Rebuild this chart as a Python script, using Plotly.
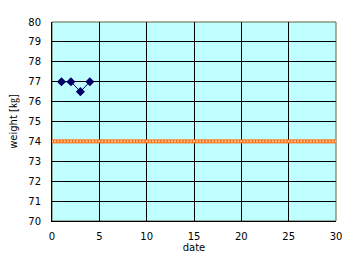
import plotly.graph_objects as go

# Data
days = [1, 2, 3, 4]
weights = [77, 77, 76.5, 77]
target_days = [i / 3 for i in range(91)]
target_weight = [74] * len(target_days)

x_ticks = [0, 5, 10, 15, 20, 25, 30]
y_ticks = [70, 71, 72, 73, 74, 75, 76, 77, 78, 79, 80]

font = dict(family="DejaVu Sans, Noto Sans CJK JP", size=10, color="black")

fig = go.Figure()
fig.add_trace(go.Scatter(
    x=target_days, y=target_weight, mode="lines+markers",
    line=dict(color="#FF6600", width=1),
    marker=dict(symbol="square", size=3, color="#FFC8A0",
                line=dict(color="#FF6600", width=1)),
    showlegend=False, hoverinfo="skip"))
fig.add_trace(go.Scatter(
    x=days, y=weights, mode="lines+markers",
    line=dict(color="#000066", width=1),
    marker=dict(symbol="diamond", size=7, color="#000066"),
    showlegend=False))

fig.update_layout(
    width=361, height=271,
    margin=dict(l=52, r=25, t=22, b=50),
    paper_bgcolor="white", plot_bgcolor="#C0FFFF",
    font=font,
    xaxis=dict(range=[0, 30], tickvals=x_ticks, ticks="", showgrid=True,
               gridcolor="black", gridwidth=1, zeroline=False,
               showline=True, linecolor="black", linewidth=1,
               title=dict(text="date", standoff=2, font=font),
               ticklabelstandoff=6, fixedrange=True),
    yaxis=dict(range=[70, 80], tickvals=y_ticks, ticks="", showgrid=True,
               gridcolor="black", gridwidth=1, zeroline=False,
               showline=True, linecolor="black", linewidth=1,
               title=dict(text="weight [㎏]", standoff=8, font=font),
               ticklabelstandoff=8, fixedrange=True),
    shapes=[dict(type="rect", xref="paper", yref="paper", x0=0, y0=0, x1=1, y1=1,
                 line=dict(color="#606040", width=1), fillcolor="rgba(0,0,0,0)",
                 layer="below")],
)

fig.write_html("out.html")
